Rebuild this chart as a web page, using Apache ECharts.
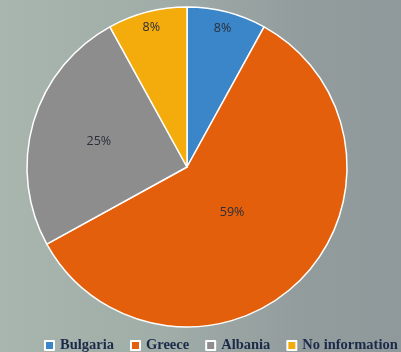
<!DOCTYPE html>
<html><head><meta charset="utf-8">
<script src="https://cdn.jsdelivr.net/npm/echarts@6/dist/echarts.min.js"></script>
<style>
html,body{margin:0;padding:0;width:401px;height:352px;overflow:hidden;}
body{background:linear-gradient(90deg,#a8b6ae 0%,#a0ada8 40%,#939c9d 75%,#8f999b 100%);}
#c{width:401px;height:352px;}
</style></head><body><div id="c"></div>
<script>
const categories = ["Bulgaria", "Greece", "Albania", "No information"];
const values = [8, 59, 25, 8];
const colors = ["#3a86c9", "#e35f0b", "#8d8d8e", "#f4ab0c"];
// label distance from centre as fraction of radius (style)
const labelFrac = [0.875, 0.38, 0.555, 0.88];
const R = 160;
const total = values.reduce((a, b) => a + b, 0);
let cum = 0;
const data = categories.map((name, i) => {
  const mid = (cum + values[i] / 2) / total * Math.PI * 2;
  cum += values[i];
  const shift = labelFrac[i] * R - R / 2;
  return {
    name, value: values[i],
    itemStyle: { color: colors[i] },
    label: { offset: [Math.sin(mid) * shift, -Math.cos(mid) * shift] }
  };
});
const chart = echarts.init(document.getElementById('c'));
chart.setOption({
  animation: false,
  legend: {
    left: 44, top: 338, padding: 0,
    icon: 'rect', itemWidth: 9, itemHeight: 9, itemGap: 16,
    textStyle: { fontFamily: 'Liberation Serif', fontWeight: 'bold', fontSize: 14.5, color: '#1b2a48', padding: [0, 0, 0, 1] },
    data: categories
  },
  series: [{
    type: 'pie',
    center: [187, 167],
    radius: [0, R],
    startAngle: 90,
    clockwise: true,
    data,
    itemStyle: { borderColor: '#ffffff', borderWidth: 1.5 },
    label: {
      show: true, position: 'inside',
      formatter: '{d}%',
      fontFamily: 'Open Sans', fontSize: 12.5, color: '#2b2f3a'
    },
    labelLine: { show: false },
    emphasis: { disabled: true }
  }]
});
</script></body></html>
